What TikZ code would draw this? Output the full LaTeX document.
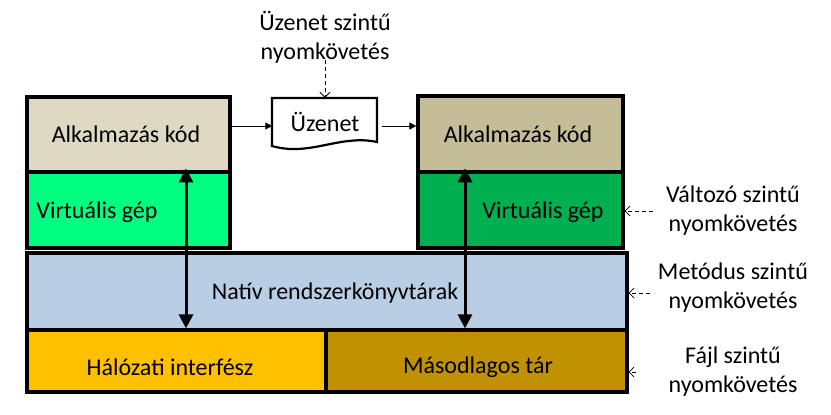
\documentclass[tikz,border=0pt]{standalone}
\usepackage{fontspec}
\setmainfont{Carlito}
\usetikzlibrary{arrows.meta}

\definecolor{appleft}{HTML}{DDD9C3}
\definecolor{appright}{HTML}{C4BD97}
\definecolor{vmleft}{HTML}{00FF80}
\definecolor{vmright}{HTML}{00B050}
\definecolor{native}{HTML}{B9CDE5}
\definecolor{network}{HTML}{FFC000}
\definecolor{storage}{HTML}{C09100}

\tikzset{
    layer/.style  = {draw = black, line width = 3.2pt, inner sep = 0pt},
    plain/.style  = {align = center, inner sep = 0pt},
    bus/.style    = {line width = 3pt, {Triangle[length = 14pt, width = 14pt]}-{Triangle[length = 14pt, width = 14pt]}},
    flow/.style   = {line width = 0.9pt, -{Triangle[length = 7pt, width = 7pt]}},
    trace/.style  = {dash pattern = on 4pt off 3pt, line width = 0.8pt, -{Straight Barb[length = 5pt, width = 10pt]}}
}

\begin{document}
\begin{tikzpicture}[x = 1pt, y = -1pt, font = \fontsize{24}{29}\selectfont]

    \useasboundingbox (0, 0) rectangle (831, 415);

    % application layer
    \node [layer, fill = appleft,  minimum width = 203, minimum height = 75] (appL) at (128.5, 134.5) {};
    \node [layer, fill = appright, minimum width = 205, minimum height = 76] (appR) at (520.5, 134) {};
    \node [plain] (appLtext) at (126, 134) {Alkalmazás kód};
    \node [plain] (appRtext) at (518, 134) {Alkalmazás kód};

    % virtual machines
    \node [layer, fill = vmleft,  minimum width = 203, minimum height = 76] (vmL) at (128.5, 210) {};
    \node [layer, fill = vmright, minimum width = 205, minimum height = 76] (vmR) at (520.5, 210) {};
    \node [plain] (vmLtext) at (97, 212) {Virtuális gép};
    \node [plain] (vmRtext) at (543, 212) {Virtuális gép};

    % native libraries
    \node [layer, fill = native, minimum width = 600, minimum height = 77] (native) at (327, 291.5) {};
    \node [plain] (nativetext) at (335, 293) {Natív rendszerkönyvtárak};

    % hardware
    \node [layer, fill = network, minimum width = 299, minimum height = 62] (net)   at (176.5, 361) {};
    \node [layer, fill = storage, minimum width = 301, minimum height = 62] (store) at (476.5, 361) {};
    \node [plain] (nettext)   at (170, 367) {Hálózati interfész};
    \node [plain] (storetext) at (478, 367) {Másodlagos tár};

    % message
    \draw [line width = 2.2pt, fill = white] (272, 98) -- (377, 98) -- (377, 142)
        .. controls (340, 134) and (310, 157) .. (272, 146) -- cycle;
    \node [plain, minimum width = 105, minimum height = 48] (msg) at (325, 122) {Üzenet};
    \draw [flow] ([xshift = -4pt] appL.east |- 0, 126) -- (msg.west |- 0, 126);
    \draw [flow] ([xshift = 4pt] msg.east |- 0, 126) -- (appR.west |- 0, 126);

    % system calls
    \coordinate (busL) at (186, 0);
    \coordinate (busR) at (465, 0);
    \draw [bus] ([yshift = 2pt] busL |- vmL.north) -- (busL |- net.north);
    \draw [bus] ([yshift = 2pt] busR |- vmR.north) -- (busR |- store.north);

    % tracing levels
    \node [plain] (msgtrace)   at (325, 37)  {Üzenet szintű\\nyomkövetés};
    \node [plain] (vartrace)   at (733, 211) {Változó szintű\\nyomkövetés};
    \node [plain] (methtrace)  at (733, 288) {Metódus szintű\\nyomkövetés};
    \node [plain] (filetrace)  at (733, 372) {Fájl szintű\\nyomkövetés};
    \draw [trace] ([yshift = 3pt] msgtrace.south) -- (msg.north);
    \draw [trace] (vartrace.west)  ++(-13, 0) -- (vmR.east |- vartrace.west);
    \draw [trace] (methtrace.west) ++(-8, 5)  -- (native.east |- 0, 293);
    \draw [trace] (filetrace.west) ++(-32, 0) -- (store.east |- filetrace.west);

\end{tikzpicture}
\end{document}
